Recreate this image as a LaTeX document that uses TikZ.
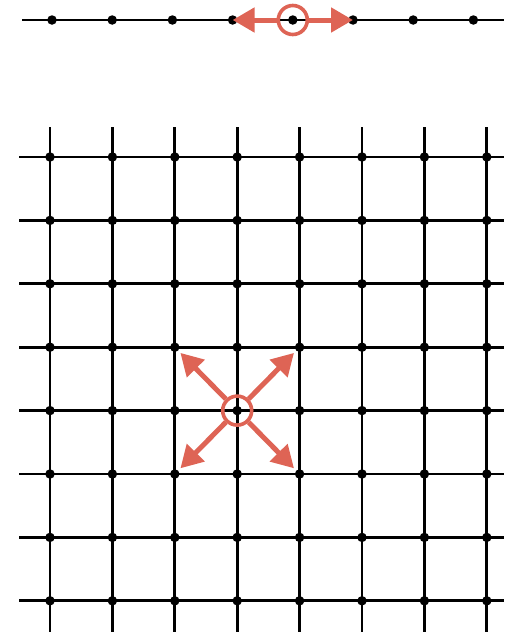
\documentclass[tikz,border=0pt]{standalone}
\usetikzlibrary{arrows.meta}
\definecolor{arrowred}{RGB}{222,100,85}
\begin{document}
\begin{tikzpicture}
[
	x=1pt,y=-1pt,
	dot/.style={circle,fill,inner sep=0pt,minimum size=9.5pt},
	ring/.style={circle,draw=arrowred,line width=3.6pt,inner sep=0pt,minimum size=29pt},
	gridline/.style={line width=2.8pt},
	push/.style={arrowred,line width=5pt,-{Triangle[length=22pt,width=24pt]}}
]
	\useasboundingbox (0,0) rectangle (504,632);

	% chain
	\draw[gridline] (22,20) -- (504,20);
	\foreach \k in {1,...,8}
		\node[dot] (t\k) at ({52+60.2*(\k-1)},20) {};
	\node[ring] (tc) at (t5) {};
	\draw[push] (tc) -- (t4.center);
	\draw[push] (tc) -- (t6.center);

	% square lattice
	\foreach \i in {1,...,8}
		\draw[gridline] ({50+62.4*(\i-1)},127) -- ({50+62.4*(\i-1)},632);
	\foreach \j in {1,...,8}
		\draw[gridline] (19,{157+63.4*(\j-1)}) -- (504,{157+63.4*(\j-1)});
	\foreach \i in {1,...,8}
		\foreach \j in {1,...,8}
			\node[dot] (g\i-\j) at ({50+62.4*(\i-1)},{157+63.4*(\j-1)}) {};

	\node[ring] (gc) at (g4-5) {};
	\draw[push,shorten >=8pt] (gc) -- (g3-4.center);
	\draw[push,shorten >=8pt] (gc) -- (g5-4.center);
	\draw[push,shorten >=8pt] (gc) -- (g3-6.center);
	\draw[push,shorten >=8pt] (gc) -- (g5-6.center);

\end{tikzpicture}
\end{document}
